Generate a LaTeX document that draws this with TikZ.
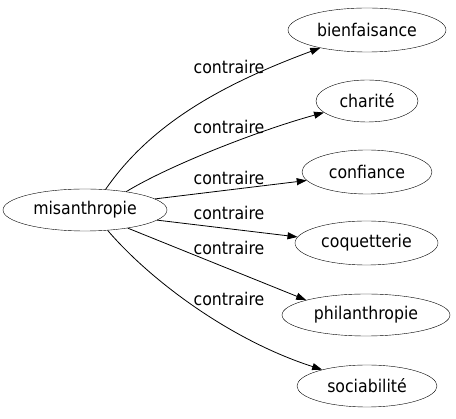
\documentclass[tikz,border=0pt]{standalone}
\usepackage{fontspec}
\setmainfont{DejaVu Sans Condensed}
\usetikzlibrary{shapes.geometric,arrows.meta}
\tikzset{
  word/.style={draw, ellipse, inner sep=0pt, font=\fontsize{17.5}{20}\selectfont},
  lbl/.style={font=\fontsize{17.5}{20}\selectfont, inner sep=0pt},
  rel/.style={draw, line width=0.8pt, -{Triangle[length=10pt,width=7pt]}}
}
\begin{document}
\begin{tikzpicture}[x=1pt,y=-1pt]
\useasboundingbox (0,0) rectangle (456,419);
\node[word, minimum width=164pt, minimum height=42pt] (m) at (85,210) {misanthropie};
\node[word, minimum width=158pt, minimum height=44pt] (b) at (367,30) {bienfaisance};
\node[word, minimum width=102pt, minimum height=42pt] (c) at (367,101) {charité};
\node[word, minimum width=130pt, minimum height=44pt] (f) at (367,172) {confiance};
\node[word, minimum width=143pt, minimum height=44pt] (q) at (366.5,243) {coquetterie};
\node[word, minimum width=168pt, minimum height=42pt] (p) at (366,315) {philanthropie};
\node[word, minimum width=140pt, minimum height=42pt] (s) at (367,386) {sociabilité};

\draw[rel] (m.45) .. controls (150,125) and (220,85) .. (b.201);
\draw[rel] (m.24) .. controls (170,165) and (260,130) .. (c.195);
\draw[rel] (m.9) -- (f.188);
\draw[rel] (m.-8) -- (q.175);
\draw[rel] (m.-23) -- (p.166);
\draw[rel] (m.-42) .. controls (150,280) and (230,340) .. (s.160);

\node[lbl] (l1) at (229,67) {contraire};
\node[lbl] (l2) at (229,127) {contraire};
\node[lbl] (l3) at (229,178) {contraire};
\node[lbl] (l4) at (229,213) {contraire};
\node[lbl] (l5) at (229,248) {contraire};
\node[lbl] (l6) at (229,299) {contraire};
\end{tikzpicture}
\end{document}
